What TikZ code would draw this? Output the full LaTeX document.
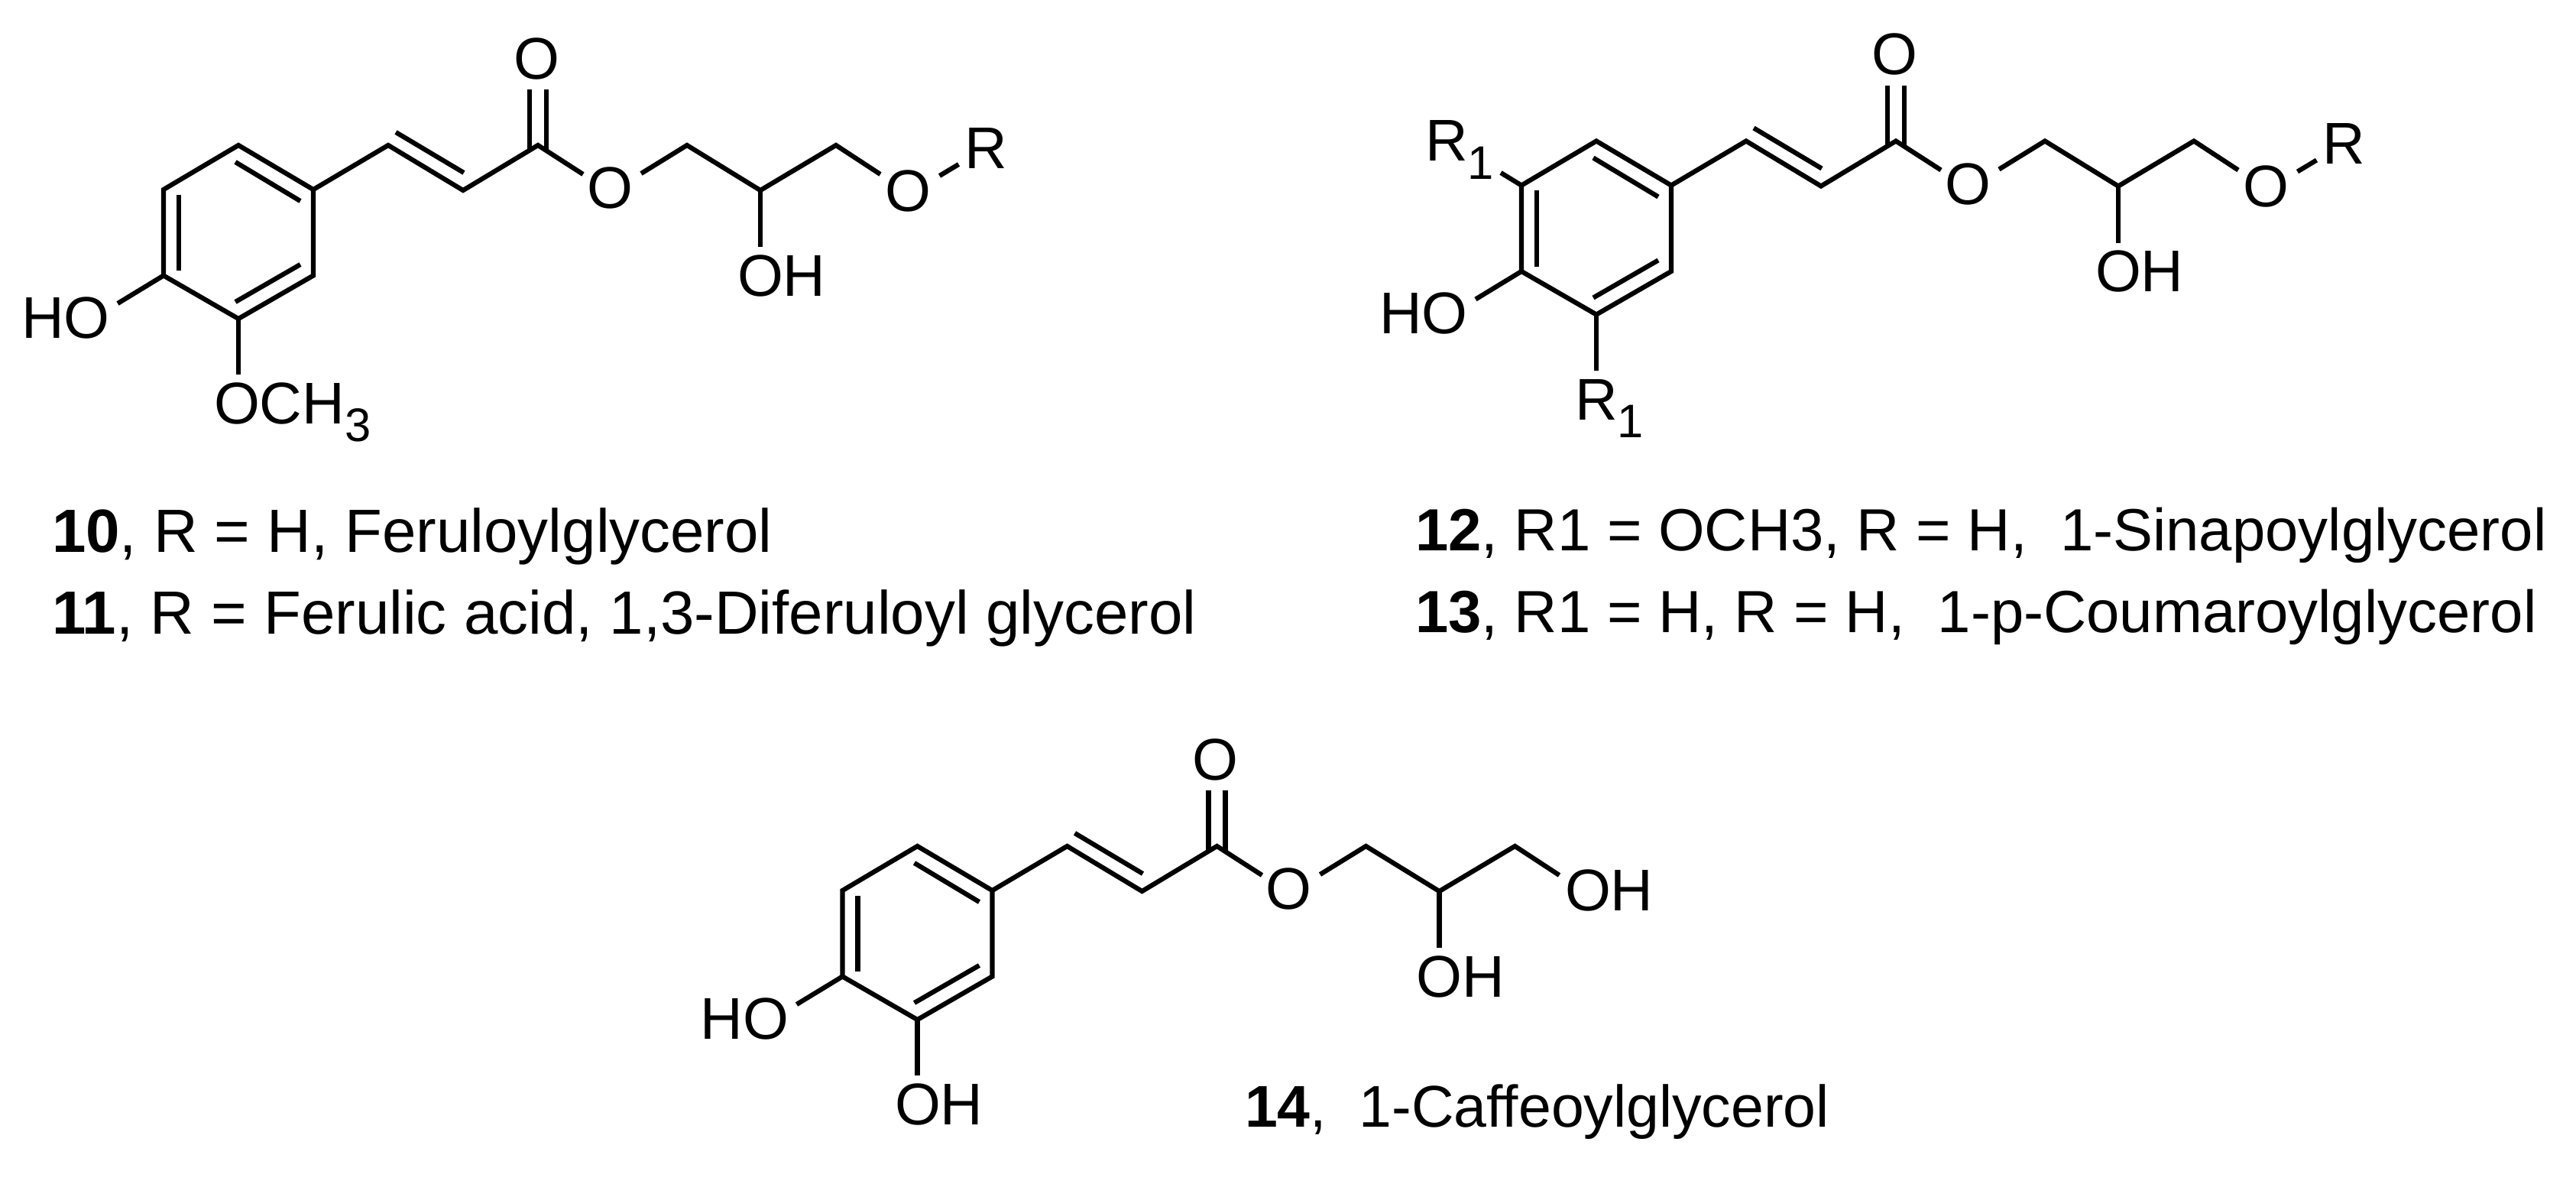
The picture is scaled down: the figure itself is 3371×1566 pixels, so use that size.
\documentclass[tikz,border=0pt]{standalone}
\usepackage{fontspec}
\setmainfont{Liberation Sans}
\usepackage{tikz}
\tikzset{
  bond/.style={line width=0.062cm, line join=miter, black},
  atom/.style={anchor=base west, inner sep=0pt, outer sep=0pt, font=\fontsize{21.9}{26}\selectfont},
  caption/.style={anchor=base west, inner sep=0pt, outer sep=0pt, font=\fontsize{#1}{26}\selectfont}
}
\newcommand{\lowsub}[1]{\raisebox{-0.31em}{\fontsize{17.5}{20}\selectfont #1}}
% shared skeleton of the three esters
\newcommand{\esterskeleton}{
  \coordinate (ringt) at (312,190);
  \coordinate (ringrt) at (410,248);
  \coordinate (ringrb) at (410,360.5);
  \coordinate (ringb) at (312,417);
  \coordinate (ringlb) at (214,360.5);
  \coordinate (ringlt) at (214,248);
  \coordinate (ca) at (508,190);
  \coordinate (cb) at (606,249);
  \coordinate (cc) at (704,190);
  \coordinate (cd) at (899,190);
  \coordinate (ce) at (995,249);
  \coordinate (cf) at (1094,190);
  % ends beside the labels
  \coordinate (oa) at (763,228);
  \coordinate (ob) at (839,227);
  \coordinate (oc) at (1152,228);
  \coordinate (oh) at (995,323);
  \coordinate (ho) at (154,397);
  \coordinate (sub) at (312,490);
  % ring and chain
  \draw[bond] (ringt) -- (ringrt) -- (ringrb) -- (ringb) -- (ringlb) -- (ringlt) -- cycle;
  \draw[bond] (308,212) -- (393,263);
  \draw[bond] (234,254.5) -- (234,354);
  \draw[bond] (308,395) -- (393,346);
  \draw[bond] (ringrt) -- (ca) -- (cb) -- (cc) -- (oa);
  \draw[bond] (518,173) -- (607,226);
  \draw[bond] (693,197) -- (693,117);
  \draw[bond] (715,197) -- (715,117);
  \draw[bond] (ob) -- (cd) -- (ce) -- (cf) -- (oc);
  \draw[bond] (ce) -- (oh);
  \draw[bond] (ringlb) -- (ho);
  \draw[bond] (ringb) -- (sub);
  % labels
  \node[atom] (keto) at (672,103) {O};
  \node[atom] (ester) at (768,272.5) {O};
  \node[atom] (midoh) at (965,387) {OH};
  \node[atom] (phoh) at (28,442) {HO};
}
\begin{document}
\begin{tikzpicture}[x=0.01cm, y=-0.01cm]
  \path[use as bounding box, fill=white] (0,0) rectangle (3371,1566);

  % Ester 10 and 11
  \begin{scope}[name prefix=fer-]
    \esterskeleton
    \coordinate (etherr) at (1229.5,230);
    \coordinate (rr) at (1254.5,215);
    \draw[bond] (etherr) -- (rr);
    \node[atom] (ether) at (1158,276) {O};
    \node[atom] (rgroup) at (1262,220) {R};
    \node[atom] (ome) at (280,554) {OCH\lowsub{3}};
  \end{scope}

  % Ester 12 and 13
  \begin{scope}[shift={(1777,-5.5)}, name prefix=sin-]
    \esterskeleton
    \coordinate (etherr) at (1229.5,230);
    \coordinate (rr) at (1254.5,215);
    \coordinate (rone) at (187,231.5);
    \draw[bond] (etherr) -- (rr);
    \draw[bond] (ringlt) -- (rone);
    \node[atom] (ether) at (1158,276) {O};
    \node[atom] (rgroup) at (1262,220) {R};
    \node[atom] (ronetop) at (88,216) {R\lowsub{1}};
    \node[atom] (ronebot) at (284,554.5) {R\lowsub{1}};
  \end{scope}

  % Ester 14
  \begin{scope}[shift={(888.5,917)}, name prefix=caf-]
    \esterskeleton
    \node[atom] (endoh) at (1159.5,274) {OH};
    \node[atom] (catoh) at (282.5,554) {OH};
  \end{scope}

  % Captions
  \node[caption=22.7] (capa) at (68,722) {\textbf{10}, R = H, Feruloylglycerol};
  \node[caption=22.7] (capb) at (68,829) {\textbf{11}, R = Ferulic acid, 1,3-Diferuloyl glycerol};
  \node[caption=22.15] (capc) at (1852,720) {\textbf{12}, R1 = OCH3, R = H,\ \ 1-Sinapoylglycerol};
  \node[caption=22.15] (capd) at (1852,827) {\textbf{13}, R1 = H, R = H,\ \ 1-p-Coumaroylglycerol};
  \node[caption=21.9] (cape) at (1629,1474) {\textbf{14},\ \ 1-Caffeoylglycerol};
\end{tikzpicture}
\end{document}
